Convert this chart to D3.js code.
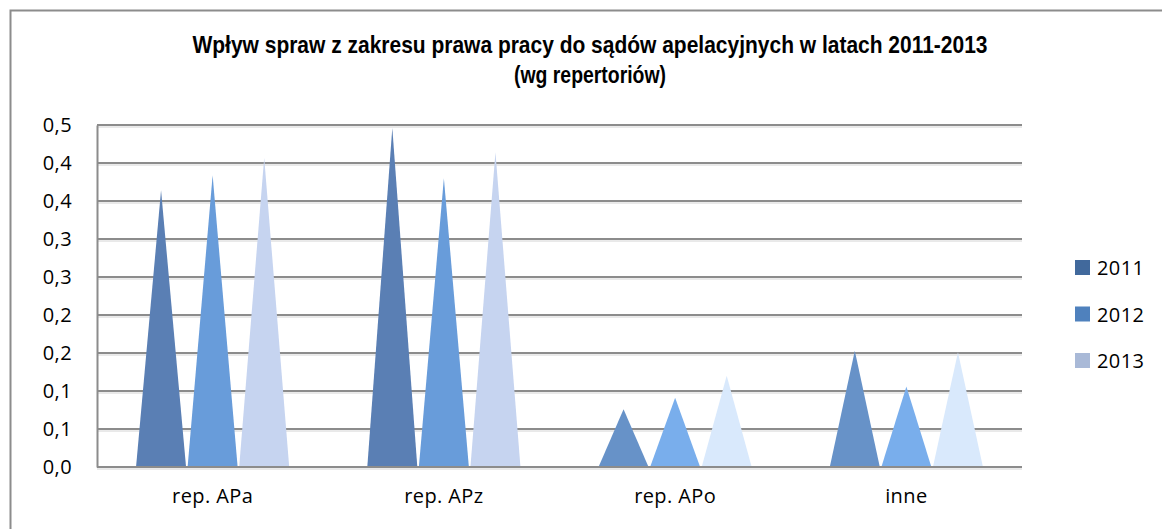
<!DOCTYPE html>
<html>
<head>
<meta charset="utf-8">
<script src="https://cdn.jsdelivr.net/npm/d3@7"></script>
<style>
  body { margin: 0; background: #fff; }
  text { font-family: "Open Sans", "Liberation Sans", sans-serif; fill: #000; }
</style>
</head>
<body>
<div id="page"></div>
<script>
var categories = ['rep. APa', 'rep. APz', 'rep. APo', 'inne'];
var years = ['2011', '2012', '2013'];
var values2011 = [0.364, 0.446, 0.076, 0.153];
var values2012 = [0.384, 0.380, 0.091, 0.106];
var values2013 = [0.407, 0.414, 0.120, 0.151];
var yTicks = [0, 0.05, 0.1, 0.15, 0.2, 0.25, 0.3, 0.35, 0.4, 0.45];

// pyramids in the first two groups are shaded darker than the last two
var darkShades = ['#5a7fb4', '#689cda', '#c6d4f0'],
    lightShades = ['#6792c8', '#79aeec', '#d9e9fc'],
    legendColors = ['#41699c', '#4f81bd', '#a9b9d7'];

var W = 1162, H = 529,
    plotLeft = 97, plotRight = 1022, plotTop = 125, plotBottom = 467;

var svg = d3.select("#page").append("svg")
    .attr("width", W)
    .attr("height", H);

// outer chart border
svg.append("path")
    .attr("d", "M10.5," + H + "V10.5H" + W)
    .attr("fill", "none")
    .attr("stroke", "#8c8c8c")
    .attr("stroke-width", 2);

svg.append("text")
    .attr("x", 590)
    .attr("y", 53)
    .attr("text-anchor", "middle")
    .attr("textLength", 795)
    .attr("lengthAdjust", "spacingAndGlyphs")
    .style("font-family", "'Liberation Sans', Arial, sans-serif")
    .style("font-weight", "bold")
    .style("font-size", "24px")
    .text("Wpływ spraw z zakresu prawa pracy do sądów apelacyjnych w latach 2011-2013");

svg.append("text")
    .attr("x", 590)
    .attr("y", 83)
    .attr("text-anchor", "middle")
    .attr("textLength", 152)
    .attr("lengthAdjust", "spacingAndGlyphs")
    .style("font-family", "'Liberation Sans', Arial, sans-serif")
    .style("font-weight", "bold")
    .style("font-size", "24px")
    .text("(wg repertoriów)");

var y = d3.scaleLinear().domain([0, 0.45]).range([plotBottom, plotTop]);
var x0 = d3.scaleBand().domain(categories).range([plotLeft, plotRight]).padding(0);
var x1 = d3.scaleBand().domain(years).range([0, x0.bandwidth()])
    .paddingInner(0.03).paddingOuter(0.757);

var fmt = function(d) { return d3.format(".1f")(d + 1e-9).replace(".", ","); };

var labelStyle = function(sel) {
  sel.style("font-size", "20px")
     .style("letter-spacing", "0.4px")
     .style("font-family", "'Open Sans', sans-serif")
     .attr("fill", "#000");
};

// gridlines with their light shadow line
var grid = svg.append("g");
yTicks.forEach(function(t) {
  grid.append("line")
      .attr("x1", plotLeft).attr("x2", plotRight)
      .attr("y1", y(t) + 2).attr("y2", y(t) + 2)
      .attr("stroke", "#d4d4d4").attr("stroke-width", 1);
  grid.append("line")
      .attr("x1", plotLeft).attr("x2", plotRight)
      .attr("y1", y(t)).attr("y2", y(t))
      .attr("stroke", "#8c8c8c").attr("stroke-width", 2);
});

var yAxis = svg.append("g")
    .attr("transform", "translate(" + plotLeft + ",0)")
    .call(d3.axisLeft(y).tickValues(yTicks).tickSize(0).tickPadding(25).tickFormat(fmt));
yAxis.select(".domain").attr("stroke", "#8c8c8c").attr("stroke-width", 2);
yAxis.selectAll("text").call(labelStyle);

var series = [values2011, values2012, values2013];
var rows = [];
categories.forEach(function(c, ci) {
  years.forEach(function(yr, si) {
    rows.push({cat: c, ci: ci, year: yr, si: si, value: series[si][ci]});
  });
});

svg.append("g").selectAll("path")
    .data(rows)
  .enter().append("path")
    .attr("d", function(d) {
      var x = x0(d.cat) + x1(d.year), w = x1.bandwidth();
      return "M" + x + "," + y(0) + "L" + (x + w / 2) + "," + y(d.value) + "L" + (x + w) + "," + y(0) + "Z";
    })
    .attr("fill", function(d) { return (d.ci < 2 ? darkShades : lightShades)[d.si]; });

// baseline over the pyramids
svg.append("line")
    .attr("x1", plotLeft).attr("x2", plotRight)
    .attr("y1", y(0)).attr("y2", y(0))
    .attr("stroke", "#8c8c8c").attr("stroke-width", 2);

var xAxis = svg.append("g")
    .attr("transform", "translate(0," + plotBottom + ")")
    .call(d3.axisBottom(x0).tickSize(0).tickPadding(22));
xAxis.select(".domain").remove();
xAxis.selectAll("text").call(labelStyle);

var legend = svg.append("g").selectAll("g")
    .data(years)
  .enter().append("g")
    .attr("transform", function(d, i) { return "translate(1075," + (260 + i * 46.5) + ")"; });
legend.append("rect")
    .attr("width", 15).attr("height", 15)
    .attr("fill", function(d, i) { return legendColors[i]; });
legend.append("text")
    .attr("x", 22).attr("y", 15)
    .call(labelStyle)
    .text(function(d) { return d; });
</script>
</body>
</html>
